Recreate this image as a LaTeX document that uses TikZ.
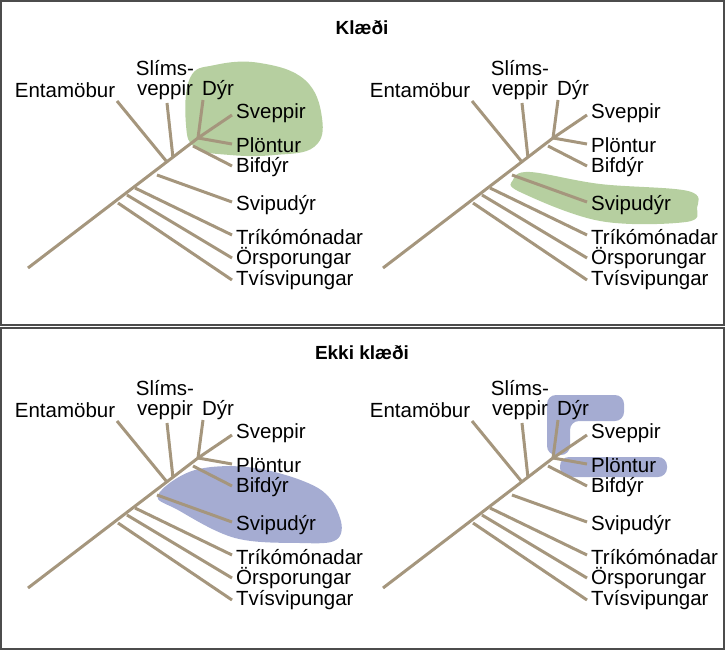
\documentclass[tikz,border=0pt]{standalone}
\usepackage{fontspec}
\setmainfont{Liberation Sans}
\definecolor{br}{RGB}{165,150,125}
\definecolor{gblob}{RGB}{182,207,160}
\definecolor{bblob}{RGB}{165,172,210}
\tikzset{br/.style={draw=br,line width=3pt},
 lab/.style={font=\fontsize{20.5}{22}\selectfont,inner sep=0pt},
 lft/.style={lab,anchor=west},
 frame/.style={draw=black!70,line width=1.5pt},
 ttl/.style={font=\fontsize{19}{21}\selectfont\bfseries}}
\newcommand{\mytree}[3]{%
\begin{scope}[shift={(#1,#2)}]
\coordinate (#3r) at (28,268);
\coordinate (#3j) at (198,138);
\coordinate (#3dt) at (203,100);
\coordinate (#3st) at (232,115);
\coordinate (#3pt) at (232,144);
\coordinate (#3bt) at (232,166);
\coordinate (#3bj) at (193,146);
\coordinate (#3smt) at (167,103);
\coordinate (#3smj) at (173,158);
\coordinate (#3et) at (117,101);
\coordinate (#3ej) at (167,162);
\coordinate (#3svj) at (157,175);
\coordinate (#3svt) at (232,202);
\coordinate (#3trj) at (135,188);
\coordinate (#3trt) at (232,235);
\coordinate (#3orj) at (127,195);
\coordinate (#3ort) at (232,258);
\coordinate (#3tvj) at (118,203);
\coordinate (#3tvt) at (232,280);
\draw[br] (#3r)--(#3j); \draw[br] (#3j)--(#3dt); \draw[br] (#3j)--(#3st);
\draw[br] (#3j)--(#3pt); \draw[br] (#3bj)--(#3bt); \draw[br] (#3smt)--(#3smj);
\draw[br] (#3et)--(#3ej); \draw[br] (#3svj)--(#3svt); \draw[br] (#3trj)--(#3trt);
\draw[br] (#3orj)--(#3ort); \draw[br] (#3tvj)--(#3tvt);
\node[lab] (#3E) at (65,90) {Entamöbur};
\node[lab] (#3S1) at (165,68) {Slíms-};
\node[lab] (#3S2) at (165,90) {veppir};
\node[lab] (#3D) at (218,90) {Dýr};
\node[lft] (#3Sv) at (236,113) {Sveppir};
\node[lft] (#3P) at (236,145) {Plöntur};
\node[lft] (#3B) at (236,167) {Bifdýr};
\node[lft] (#3Sp) at (236,205) {Svipudýr};
\node[lft] (#3T) at (236,237) {Tríkómónadar};
\node[lft] (#3O) at (236,258) {Örsporungar};
\node[lft] (#3Tv) at (236,280) {Tvísvipungar};
\end{scope}}
\begin{document}
\begin{tikzpicture}[x=1pt,y=-1pt]
\useasboundingbox (0,0) rectangle (725,650);
\draw[frame] (1,1) rectangle (724,325);
\draw[frame] (1,328) rectangle (724,649);
\node[ttl] (t1) at (362,28) {Klæði};
\node[ttl] (t2) at (362,353) {Ekki klæði};
% blobs
\fill[gblob] plot[smooth cycle,tension=0.7] coordinates {(190,78) (215,65) (260,63) (305,80) (322,118) (314,147) (275,155) (230,155) (196,148) (186,125)};
\fill[gblob] plot[smooth cycle,tension=0.6] coordinates {(513,180) (530,172) (600,184) (688,191) (697,208) (686,222) (600,221) (520,192)};
\fill[bblob] plot[smooth cycle,tension=0.6] coordinates {(158,495) (195,470) (255,468) (318,488) (340,518) (336,540) (300,543) (235,538) (178,510)};
\fill[bblob,rounded corners=9pt] (547,455)--(547,395)--(624,395)--(624,421)--(570,421)--(570,455)--cycle;
\fill[bblob,rounded corners=9pt] (560,457) rectangle (667,477);
\mytree{0}{0}{a}
\mytree{355}{0}{b}
\mytree{0}{320}{c}
\mytree{355}{320}{d}
\end{tikzpicture}
\end{document}
